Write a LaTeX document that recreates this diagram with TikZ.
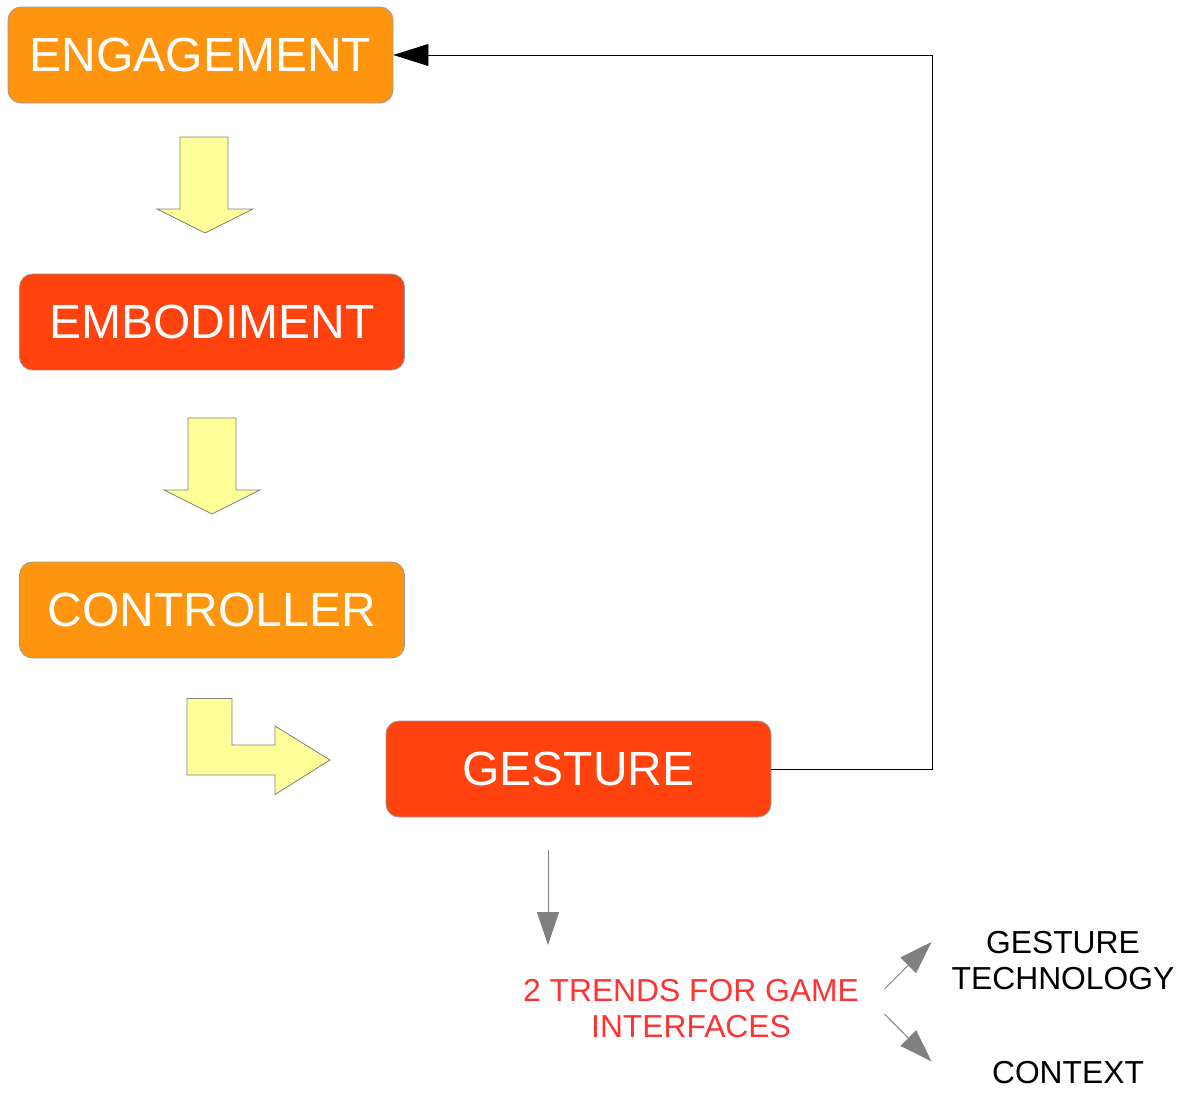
\documentclass[tikz,border=0pt]{standalone}
\usepackage{fontspec}
\setmainfont{Liberation Sans}
\usetikzlibrary{arrows.meta}
\definecolor{boxorange}{HTML}{FF950E}
\definecolor{boxred}{HTML}{FF420E}
\definecolor{arrowyellow}{HTML}{FFFF99}
\definecolor{trendred}{HTML}{FF3333}
\definecolor{edgegray}{HTML}{999999}
\begin{document}
\begin{tikzpicture}[x=1pt,y=-1pt,
  box/.style={draw=edgegray,line width=0.8pt,rounded corners=13pt,minimum width=385pt,minimum height=96pt,inner sep=0pt,text=white,font=\fontsize{48}{57}\selectfont},
  orangebox/.style={box,fill=boxorange},
  redbox/.style={box,fill=boxred},
  yarrow/.style={draw=gray,line width=0.8pt,fill=arrowyellow,line join=miter},
  label/.style={align=center,font=\fontsize{31.8}{36}\selectfont,inner sep=0pt},
  grayarrow/.style={draw=gray,line width=1pt,-{Triangle[length=33pt,width=22pt]},gray}
]
\useasboundingbox (0,0) rectangle (1183,1092);
\node[orangebox] (engagement) at (200.5,55) {ENGAGEMENT};
\node[redbox] (embodiment) at (212,322) {EMBODIMENT};
\node[orangebox] (controller) at (212,610) {CONTROLLER};
\node[redbox] (gesture) at (578.5,769) {GESTURE};

% yellow block arrows
\draw[yarrow] (180,137) -- (228,137) -- (228,209) -- (253,209) -- (205,233) -- (157,209) -- (180,209) -- cycle;
\draw[yarrow] (188,418) -- (236,418) -- (236,490) -- (260,490) -- (212,514) -- (164,490) -- (188,490) -- cycle;
\draw[yarrow] (187,698.5) -- (232,698.5) -- (232,745) -- (275,745) -- (275,726) -- (330,760) -- (275,794.5) -- (275,775) -- (187,775) -- cycle;

% feedback connector
\draw[line width=0.8pt,-{Triangle[length=35pt,width=22pt]}] (gesture.east) -- ++(161,0) |- (engagement.east);

% bottom part
\node[label,text=trendred] (trends) at (691,1009) {2 TRENDS FOR GAME\\INTERFACES};
\node[label] (tech) at (1063,961) {GESTURE\\TECHNOLOGY};
\node[label] (context) at (1068,1072.5) {CONTEXT};
\coordinate (downstart) at (548,850);
\coordinate (downend) at (548,945);
\coordinate (upstart) at (884.5,989);
\coordinate (upend) at (931.5,942);
\coordinate (dnstart) at (884.5,1014);
\coordinate (dnend) at (931.5,1061.5);
\draw[grayarrow] (downstart) -- (downend);
\draw[grayarrow] (upstart) -- (upend);
\draw[grayarrow] (dnstart) -- (dnend);
\end{tikzpicture}
\end{document}
